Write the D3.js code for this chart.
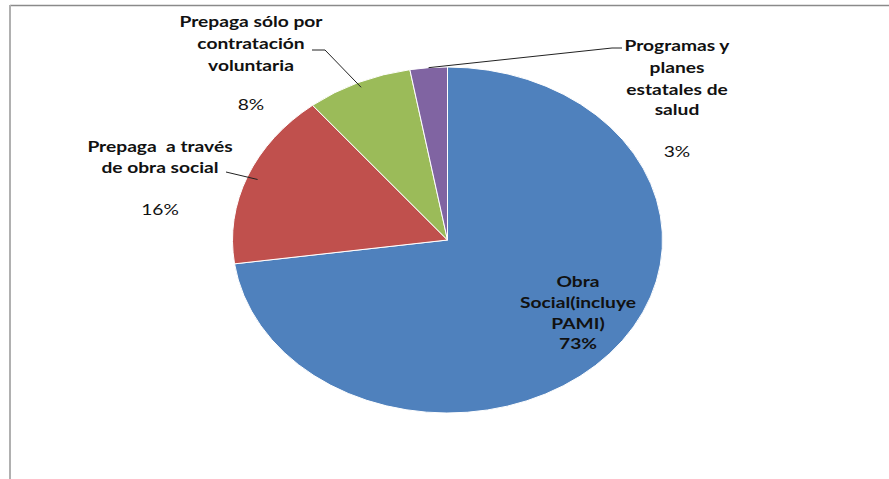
<!DOCTYPE html>
<html><head><meta charset="utf-8">
<script src="https://cdn.jsdelivr.net/npm/d3@7"></script>
<style>html,body{margin:0;padding:0;background:#fff;}svg{display:block;}text{white-space:pre;}</style>
</head><body>
<svg id="c" width="889" height="479"></svg>
<script>
const categories = [
  ["Obra", "Social(incluye", "PAMI)"],
  ["Prepaga  a través", "de obra social"],
  ["Prepaga sólo por", "contratación", "voluntaria"],
  ["Programas y", "planes", "estatales de", "salud"]
];
const values = [72.8, 16.4, 8.0, 2.8];
const percentLabels = ["73%", "16%", "8%", "3%"];
const colors = ["#4F81BD", "#C0504D", "#9BBB59", "#8064A2"];

const svg = d3.select("#c");
const W = 889, H = 479;
// frame
svg.append("line").attr("x1",10).attr("y1",5.5).attr("x2",W).attr("y2",5.5).attr("stroke","#8a8a8a").attr("stroke-width",1.5);
svg.append("line").attr("x1",10).attr("y1",5).attr("x2",10).attr("y2",H).attr("stroke","#b0b0b0").attr("stroke-width",2);

const cx = 447.5, cy = 240, rx = 215, ry = 173;
const pie = d3.pie().sort(null).value(d => d).startAngle(0).endAngle(2*Math.PI);
const arcs = pie(values);
const arc = d3.arc().innerRadius(0).outerRadius(ry);
const g = svg.append("g").attr("transform", `translate(${cx},${cy}) scale(${rx/ry},1)`);
g.selectAll("path").data(arcs).join("path")
  .attr("d", arc)
  .attr("fill", (d,i) => colors[i])
  .attr("stroke", "#fff").attr("stroke-width", 1).attr("vector-effect","non-scaling-stroke");

const pt = (a, k=1) => [cx + Math.sin(a)*rx*k, cy - Math.cos(a)*ry*k];

const layout = [
  {x: 578, y: [287, 308, 329], py: 349, leader: null},
  {x: 160, y: [152, 173], py: 215, leader: {from:[226,172], to: 0.95}},
  {x: 251, y: [27, 49, 71], py: 110, leader: {from:[312,50], mid:[325,50], to: 0.97}},
  {x: 677, y: [51, 73, 95, 115], py: 157, leader: {from:[622,48], mid:[612,48], to: 1.0}}
];

const font = "Lato, 'Open Sans', sans-serif";
const sx = 1.2;
function label(x, y, s, bold) {
  svg.append("g").attr("transform", `translate(${x},${y}) scale(${sx},1)`)
    .append("text").attr("text-anchor","middle")
    .attr("font-family", font).attr("font-weight", bold ? "bold" : "normal")
    .attr("font-size", 16).attr("fill","#111").text(s);
}
arcs.forEach((d, i) => {
  const L = layout[i];
  if (L.leader) {
    const mA = (d.startAngle + d.endAngle)/2;
    const p = pt(mA, L.leader.to);
    const pts = [L.leader.from];
    if (L.leader.mid) pts.push(L.leader.mid);
    pts.push(p);
    svg.append("path").attr("d", d3.line()(pts)).attr("fill","none").attr("stroke","#222").attr("stroke-width",1);
  }
  categories[i].forEach((s, j) => label(L.x, L.y[j], s, true));
  label(L.x, L.py, percentLabels[i], i === 0);
});
</script>
</body></html>
